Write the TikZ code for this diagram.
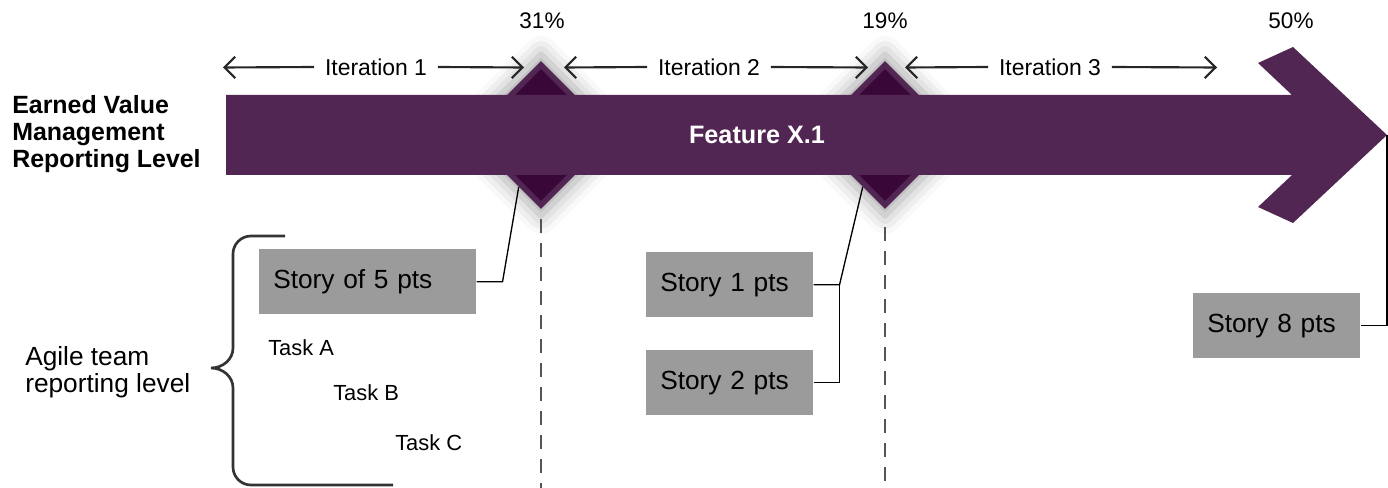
\documentclass[tikz,border=0pt]{standalone}
\usepackage{fontspec}
\setmainfont{Liberation Sans}
\usetikzlibrary{arrows.meta,shapes.geometric,shadows.blur,calc}
\definecolor{evpurple}{RGB}{82,38,82}
\definecolor{evdark}{RGB}{58,8,56}
\definecolor{boxgray}{RGB}{155,155,155}
\definecolor{lineg}{RGB}{85,85,85}
\tikzset{
  itlabel/.style={inner xsep=8pt, inner ysep=0pt, font=\fontsize{17.2}{20}\selectfont},
  itarrow/.style={draw=black!85, line width=1.6pt, -{Straight Barb[length=8pt,width=16pt,line width=1.6pt]}},
  pct/.style={font=\fontsize{16.9}{20}\selectfont, inner sep=0pt},
  outerdia/.style={diamond, aspect=1, inner sep=0pt, minimum size=111pt, fill=evpurple,
     blur shadow={shadow xshift=0pt, shadow yshift=0pt, shadow blur radius=12pt, shadow opacity=35, shadow scale=1.1}},
  innerdia/.style={diamond, aspect=1, inner sep=0pt, minimum size=99pt, fill=evdark},
  storybox/.style={fill=boxgray, anchor=north west, inner xsep=10.5pt, inner ysep=0pt, minimum height=48.75pt,
     font=\fontsize{19.7}{23}\selectfont, align=left},
  tasklbl/.style={anchor=base west, inner sep=0pt, font=\fontsize{16.4}{20}\selectfont},
  conn/.style={draw=black, line width=1pt},
  dashline/.style={draw=lineg, line width=1.4pt, dash pattern=on 10pt off 8pt},
  bracel/.style={draw=black!80, line width=2pt}
}
\begin{document}
\begin{tikzpicture}[x=0.75pt, y=-0.75pt]
\useasboundingbox (0,0) rectangle (1388,488);
% diamonds
\node[outerdia] (d1) at (541,135) {};
\node[innerdia] (d1i) at (541,135) {};
\node[outerdia] (d2) at (885,135) {};
\node[innerdia] (d2i) at (885,135) {};
% main arrow
\coordinate (tip) at (1387,135);
\fill[evpurple] (226,95) -- (1292,95) -- (1258,63) -- (1293,47) -- (tip) -- (1293,223) -- (1258,207) -- (1292,175) -- (226,175) -- cycle;
\node[text=white, font=\bfseries\fontsize{18.9}{22}\selectfont] (feat) at (757,135) {Feature X.1};
% percentages
\node[pct] (p1) at (542,21) {31\%};
\node[pct] (p2) at (885,21) {19\%};
\node[pct] (p3) at (1291,21) {50\%};
% iterations
\node[itlabel] (it1) at (376,67) {Iteration 1};
\node[itlabel] (it2) at (709,67) {Iteration 2};
\node[itlabel] (it3) at (1050,67) {Iteration 3};
\coordinate (a1l) at (223,67.5); \coordinate (a1r) at (524,67.5);
\coordinate (a2l) at (564,67.5); \coordinate (a2r) at (868,67.5);
\coordinate (a3l) at (905,67.5); \coordinate (a3r) at (1217,67.5);
\draw[itarrow] (it1.west) -- (a1l);
\draw[itarrow] (it1.east) -- (a1r);
\draw[itarrow] (it2.west) -- (a2l);
\draw[itarrow] (it2.east) -- (a2r);
\draw[itarrow] (it3.west) -- (a3l);
\draw[itarrow] (it3.east) -- (a3r);
% left label
\node[anchor=west, inner sep=0pt, align=left, font=\bfseries\fontsize{18.7}{20.3}\selectfont] (ev) at (12,134) {Earned Value\\Management\\Reporting Level};
\node[anchor=west, inner sep=0pt, align=left, font=\fontsize{19.7}{20}\selectfont] (agile) at (25,372) {Agile team\\reporting level};
% brace
\draw[bracel] (285,236) -- (251,236) to[out=180,in=90] (233,254) -- (233,348) to[out=270,in=0] (211,368) to[out=0,in=90] (233,388) -- (233,467) to[out=270,in=180] (251,485) -- (393,485);
% stories
\node[storybox, text width=141.75pt] (s5) at (259,249) {Story of 5 pts};
\node[storybox, text width=104.25pt] (s1) at (646,252) {Story 1 pts};
\node[storybox, text width=104.25pt] (s2) at (646,350) {Story 2 pts};
\node[storybox, text width=104.25pt] (s8) at (1193,293) {Story 8 pts};
% tasks
\node[tasklbl] (ta) at (268,355) {Task A};
\node[tasklbl] (tb) at (333,400) {Task B};
\node[tasklbl] (tc) at (395,450) {Task C};
% dashed lines
\coordinate (b1) at (541,488);
\coordinate (b2) at (885,488);
\draw[dashline] ($(d1.south)+(0,10)$) -- (b1);
\draw[dashline] ($(d2.south)+(0,18)$) -- (b2);
% connectors
\draw[conn] (s5.east) -- ++(26,0) -- ($(d1.south)!0.3!(d1.west)$);
\draw[conn] (s1.east) -- ++(26,0) coordinate (j2) -- ($(d2.south)!0.3!(d2.west)$);
\draw[conn] (s2.east) -| (j2);
\draw[conn] (s8.east) -| (tip);
\end{tikzpicture}
\end{document}
